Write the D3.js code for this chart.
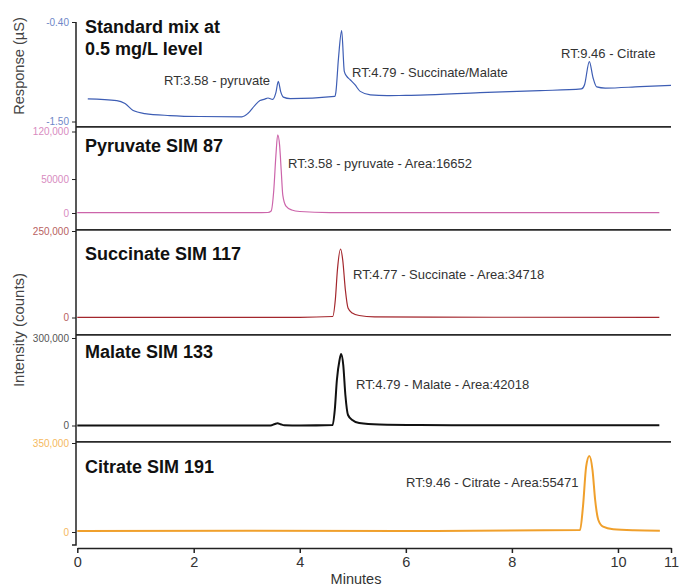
<!DOCTYPE html>
<html>
<head>
<meta charset="utf-8">
<script src="https://cdn.jsdelivr.net/npm/d3@7"></script>
<style>
  body { margin: 0; background: #fff; }
  svg { display: block; font-family: "Liberation Sans", Arial, Helvetica, sans-serif; }
  .tick line { stroke: #222; }
</style>
</head>
<body>
<svg id="chart" width="679" height="587"></svg>
<script>
// x ticks (minutes)
var xTicks = [0, 2, 4, 6, 8, 10, 11]

// traces as [minutes, value]
var standardMix = [
  [0.18, -1.250], [0.68, -1.269], [0.82, -1.302], [0.96, -1.379], [1.16, -1.412],
  [1.59, -1.434], [2.12, -1.445], [2.91, -1.448], [3.02, -1.412], [3.15, -1.324],
  [3.25, -1.269], [3.34, -1.253], [3.40, -1.240], [3.49, -1.256], [3.55, -1.180],
  [3.595, -1.057], [3.64, -1.170], [3.69, -1.230], [3.82, -1.247], [4.66, -1.222],
  [4.68, -1.180], [4.73, -0.800], [4.79, -0.496], [4.84, -0.947], [4.88, -0.996],
  [4.95, -1.038], [5.04, -1.093], [5.14, -1.167], [5.33, -1.205], [5.65, -1.214],
  [6.00, -1.211], [6.27, -1.209], [7.40, -1.181], [8.53, -1.159], [9.31, -1.140],
  [9.37, -1.093], [9.46, -0.837], [9.53, -1.016], [9.60, -1.118], [9.76, -1.131],
  [10.42, -1.115], [11.0, -1.101]
]
var pyruvate = [
  [0, 600], [1.5, 500], [3.0, 500], [3.40, 700], [3.46, 2900], [3.51, 33600],
  [3.55, 84900], [3.584, 115200], [3.62, 99500], [3.65, 62900], [3.68, 26300],
  [3.74, 10200], [3.85, 4400], [4.0, 2200], [4.57, 700], [7.0, 500], [10.78, 500]
]
var succinate = [
  [0, 500], [2.0, 500], [4.0, 500], [4.62, 2900], [4.67, 50600], [4.71, 137300],
  [4.77, 198000], [4.81, 166200], [4.86, 79500], [4.91, 27500], [4.99, 13000],
  [5.12, 5800], [5.41, 2000], [6.5, 800], [10.78, 500]
]
var malate = [
  [0, 0], [2.0, 0], [3.45, 0], [3.53, 5100], [3.58, 7500], [3.64, 4100], [3.71, 700],
  [4.0, 0], [4.62, 1700], [4.66, 53100], [4.70, 156000], [4.75, 224600],
  [4.78, 245100], [4.82, 207400], [4.86, 104600], [4.91, 36000], [4.99, 18900],
  [5.12, 8600], [5.50, 3400], [6.26, 1700], [8.0, 800], [10.78, 600]
]
var citrate = [
  [0, 4000], [3.0, 4500], [6.0, 4000], [9.285, 7900], [9.34, 99500], [9.40, 256800],
  [9.46, 298900], [9.52, 243800], [9.57, 125800], [9.63, 47200], [9.72, 20800],
  [9.91, 10600], [10.3, 6500], [10.79, 5100]
]

// y ticks and their printed labels per panel
var mixTicks = [-0.40, -1.50], mixTickLabels = ["-0.40", "-1.50"]
var pyrTicks = [0, 50000, 120000], pyrTickLabels = ["0", "50000", "120,000"]
var sucTicks = [0, 250000], sucTickLabels = ["0", "250,000"]
var malTicks = [0, 300000], malTickLabels = ["0", "300,000"]
var citTicks = [0, 350000], citTickLabels = ["0", "350,000"]

var titles = [["Standard mix at", "0.5 mg/L level"], ["Pyruvate SIM 87"], ["Succinate SIM 117"], ["Malate SIM 133"], ["Citrate SIM 191"]]
var notes = [
  [[3.58, "RT:3.58 - pyruvate"], [4.79, "RT:4.79 - Succinate/Malate"], [9.46, "RT:9.46 - Citrate"]],
  [[3.58, "RT:3.58 - pyruvate - Area:16652"]],
  [[4.77, "RT:4.77 - Succinate - Area:34718"]],
  [[4.79, "RT:4.79 - Malate - Area:42018"]],
  [[9.46, "RT:9.46 - Citrate - Area:55471"]]
]

var svg = d3.select("#chart")

// the published axis puts 0 a bit left of the regular spacing
var x = d3.scaleLinear().domain([0, 2, 11]).range([77.3, 193.7, 671])

// panel layout: domain lo/hi mapped to pixel rows, top separator line
var panels = [
  { data: standardMix, lo: -1.50, hi: -0.40, y0: 121.5, y1: 22, sep: null, color: "#3d5db4", width: 1.2,
    ticks: mixTicks, labels: mixTickLabels, tickColor: "#6f87c8", notePos: [[164, 85], [352, 76.5], [561, 58]] },
  { data: pyruvate, lo: 0, hi: 120000, y0: 213, y1: 131.5, sep: 126.8, color: "#cc64aa", width: 1.2,
    ticks: pyrTicks, labels: pyrTickLabels, tickColor: "#d88bbf", notePos: [[288, 167.5]] },
  { data: succinate, lo: 0, hi: 250000, y0: 317.5, y1: 231, sep: 229.8, color: "#a3262c", width: 1.2,
    ticks: sucTicks, labels: sucTickLabels, tickColor: "#b8625f", notePos: [[353, 278.5]] },
  { data: malate, lo: 0, hi: 300000, y0: 425.5, y1: 338, sep: 334.8, color: "#111", width: 2,
    ticks: malTicks, labels: malTickLabels, tickColor: "#555", notePos: [[356, 388.5]] },
  { data: citrate, lo: 0, hi: 350000, y0: 532, y1: 443, sep: 441.8, color: "#f0a02c", width: 2,
    ticks: citTicks, labels: citTickLabels, tickColor: "#f5b95e", notePos: [[406, 486.7]] }
]
var titleY = [[33, 55], [152], [260], [358], [473]]

panels.forEach(function(p, i) {
  var y = d3.scaleLinear().domain([p.lo, p.hi]).range([p.y0, p.y1])
  var g = svg.append("g")

  if (p.sep != null) {
    g.append("line")
      .attr("x1", 76).attr("x2", 671)
      .attr("y1", p.sep).attr("y2", p.sep)
      .attr("stroke", "#2a2a2a").attr("stroke-width", 1.8)
  }

  var line = d3.line()
    .x(function(d) { return x(d[0]) })
    .y(function(d) { return y(d[1]) })
    .curve(d3.curveMonotoneX)

  g.append("path")
    .datum(p.data)
    .attr("d", line)
    .attr("fill", "none")
    .attr("stroke", p.color)
    .attr("stroke-width", p.width)
    .attr("stroke-linejoin", "round")

  var ax = g.append("g")
    .attr("transform", "translate(76,0)")
    .call(d3.axisLeft(y).tickValues(p.ticks).tickSize(4).tickSizeOuter(0).tickPadding(3)
      .tickFormat(function(d, k) { return p.labels[k] }))
  ax.select(".domain").remove()
  ax.selectAll("text").attr("fill", p.tickColor).style("font-size", "10px")

  g.selectAll(".title").data(titles[i]).enter()
    .append("text")
    .attr("x", 85)
    .attr("y", function(d, k) { return titleY[i][k] })
    .attr("fill", "#111")
    .style("font-size", "18px")
    .style("font-weight", "bold")
    .text(function(d) { return d })

  g.selectAll(".note").data(notes[i]).enter()
    .append("text")
    .attr("x", function(d, k) { return p.notePos[k][0] })
    .attr("y", function(d, k) { return p.notePos[k][1] })
    .attr("fill", "#333")
    .style("font-size", "13px")
    .text(function(d) { return d[1] })
})

// left spine across all panels
svg.append("path")
  .attr("d", "M72,545H76V22")
  .attr("fill", "none")
  .attr("stroke", "#222")
  .attr("stroke-width", 1.5)

// x axis
var xa = svg.append("g")
  .attr("transform", "translate(0,548)")
  .call(d3.axisBottom(x).tickValues(xTicks).tickSize(5).tickSizeOuter(0).tickPadding(4)
    .tickFormat(d3.format("d")))
xa.select(".domain").attr("stroke", "#222").attr("stroke-width", 1.5)
xa.selectAll("line").attr("stroke-width", 1.5)
xa.selectAll("text").attr("fill", "#333").style("font-size", "14.5px")

svg.append("text")
  .attr("x", 356).attr("y", 584)
  .attr("text-anchor", "middle")
  .attr("fill", "#333")
  .style("font-size", "14.5px")
  .text("Minutes")

svg.append("text")
  .attr("transform", "translate(24,66) rotate(-90)")
  .attr("text-anchor", "middle")
  .attr("fill", "#444")
  .style("font-size", "14.6px")
  .text("Response (µS)")

svg.append("text")
  .attr("transform", "translate(24,330) rotate(-90)")
  .attr("text-anchor", "middle")
  .attr("fill", "#444")
  .style("font-size", "15px")
  .text("Intensity (counts)")
</script>
</body>
</html>
